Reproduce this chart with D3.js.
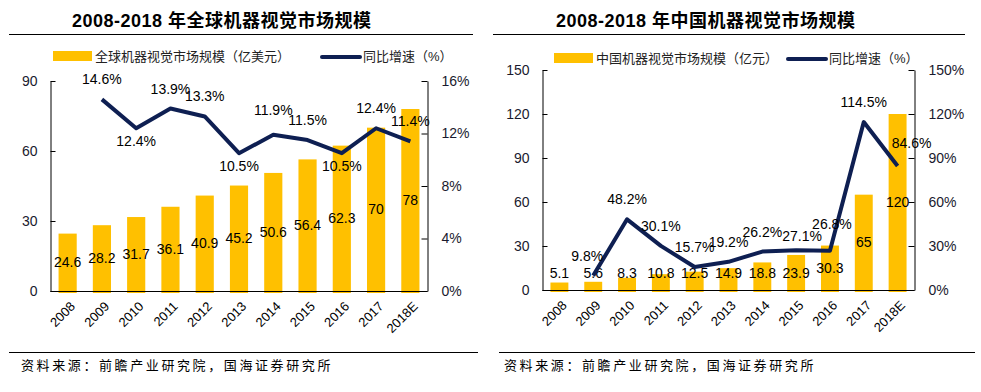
<!DOCTYPE html>
<html><head><meta charset="utf-8">
<script src="https://cdn.jsdelivr.net/npm/d3@7/dist/d3.min.js"></script>
<style>
html,body{margin:0;padding:0;background:#fff;}
svg{display:block;font-family:"Liberation Sans",Arial,"Noto Sans CJK SC",sans-serif;}
</style></head>
<body>
<svg id="c" width="981" height="392"></svg>
<script>
const years = ["2008","2009","2010","2011","2012","2013","2014","2015","2016","2017","2018E"];
const globalMarket = [24.6, 28.2, 31.7, 36.1, 40.9, 45.2, 50.6, 56.4, 62.3, 70, 78];
const globalGrowth = [null, 14.6, 12.4, 13.9, 13.3, 10.5, 11.9, 11.5, 10.5, 12.4, 11.4];
const chinaMarket = [5.1, 5.6, 8.3, 10.8, 12.5, 14.9, 18.8, 23.9, 30.3, 65, 120];
const chinaGrowth = [null, 9.8, 48.2, 30.1, 15.7, 19.2, 26.2, 27.1, 26.8, 114.5, 84.6];
const globalTicks = [0, 30, 60, 90];
const globalPctTicks = [0, 4, 8, 12, 16];
const chinaTicks = [0, 30, 60, 90, 120, 150];
const chinaPctTicks = [0, 30, 60, 90, 120, 150];
const titles = ["2008-2018 年全球机器视觉市场规模", "2008-2018 年中国机器视觉市场规模"];
const barLegend = ["全球机器视觉市场规模（亿美元）", "中国机器视觉市场规模（亿元）"];
const lineLegend = "同比增速（%）";
const sourceText = "资料来源：前瞻产业研究院，国海证券研究所";

const BAR = "#FFC000", LINE = "#0E1F52";
const svg = d3.select("#c");

function drawChart(o) {
  const g = svg.append("g");
  // title
  g.append("text").attr("x", o.titleX).attr("y", 27).attr("font-size", 18).attr("font-weight", "bold")
    .attr("letter-spacing", 0.5).attr("fill", "#000").text(o.title);
  g.append("line").attr("x1", o.topLine[0]).attr("x2", o.topLine[1]).attr("y1", 34.5).attr("y2", 34.5)
    .attr("stroke", "#000").attr("stroke-width", 1);
  g.append("line").attr("x1", o.botLine[0]).attr("x2", o.botLine[1]).attr("y1", 352.5).attr("y2", 352.5)
    .attr("stroke", "#000").attr("stroke-width", 1);
  g.append("text").attr("x", o.srcX).attr("y", 370).attr("font-size", 13).attr("letter-spacing", 2.6)
    .attr("fill", "#000").text(sourceText);
  // legend
  g.append("rect").attr("x", o.leg[0]).attr("y", o.legY - 5).attr("width", 39).attr("height", 10).attr("fill", BAR);
  g.append("text").attr("x", o.leg[0] + 42).attr("y", o.legY + 4.5).attr("font-size", 13).attr("fill", "#222").text(o.barLegend);
  g.append("line").attr("x1", o.leg[1]).attr("x2", o.leg[1] + 38).attr("y1", o.legY + 1).attr("y2", o.legY + 1)
    .attr("stroke", LINE).attr("stroke-width", 4).attr("stroke-linecap", "round");
  g.append("text").attr("x", o.leg[1] + 41).attr("y", o.legY + 4.5).attr("font-size", 13).attr("fill", "#222").text(lineLegend);

  const x = d3.scaleBand().domain(years).range([o.left, o.right]).paddingInner(0.47).paddingOuter(0.235);
  const y = d3.scaleLinear().domain(o.yDomain).range([o.bottom, o.top]);
  const y2 = d3.scaleLinear().domain(o.y2Domain).range([o.bottom, o.top]);
  const cx = d => x(d) + x.bandwidth() / 2;

  // bars
  g.append("g").selectAll("rect").data(years).join("rect")
    .attr("x", d => x(d)).attr("width", x.bandwidth())
    .attr("y", (d, i) => y(o.bars[i])).attr("height", (d, i) => y(0) - y(o.bars[i]) + 2)
    .attr("fill", BAR);

  // axes
  const ax = g.append("g").attr("transform", `translate(${o.left},0)`)
    .call(d3.axisLeft(y).tickValues(o.ticks).tickSize(-5).tickPadding(13).tickSizeOuter(0));
  const ax2 = g.append("g").attr("transform", `translate(${o.right},0)`)
    .call(d3.axisRight(y2).tickValues(o.ticks2).tickSize(-6).tickPadding(14).tickSizeOuter(0).tickFormat(d => d + "%"));
  const axb = g.append("g").attr("transform", `translate(0,${o.bottom})`)
    .call(d3.axisBottom(x).tickSize(0).tickSizeOuter(0));
  axb.select(".domain").attr("d", `M${o.left},0.5H${o.right}`);
  [ax, ax2, axb].forEach(a => {
    a.selectAll("text").attr("font-size", 14).attr("fill", "#1a1a2e").attr("font-family", "Liberation Sans, Arial, sans-serif");
    a.select(".domain").attr("stroke", "#000");
    a.selectAll(".tick line").attr("stroke", "#000");
  });
  axb.selectAll("text").attr("font-size", 13).attr("fill", "#000").attr("text-anchor", "end")
    .attr("dy", "0.35em").attr("y", 0)
    .attr("transform", d => `translate(5,13) rotate(-45)`);

  // bar labels
  g.append("g").selectAll("text").data(years).join("text")
    .attr("x", d => cx(d))
    .attr("y", (d, i) => Math.min((y(o.bars[i]) + y(0)) / 2, y(0) - 17))
    .attr("dy", "0.36em").attr("text-anchor", "middle").attr("font-size", 14).attr("fill", "#000")
    .text((d, i) => String(o.bars[i]));

  // line
  const pts = years.map((d, i) => ({ d, i, v: o.line[i] })).filter(p => p.v != null);
  g.append("path").datum(pts)
    .attr("d", d3.line().x(p => cx(p.d)).y(p => y2(p.v)))
    .attr("fill", "none").attr("stroke", LINE).attr("stroke-width", 4).attr("stroke-linejoin", "round");

  // line labels
  g.append("g").selectAll("text").data(pts).join("text")
    .attr("x", p => cx(p.d) + (o.nudge[p.i] ? o.nudge[p.i][0] : 0))
    .attr("y", p => {
      const prev = o.line[p.i - 1], next = o.line[p.i + 1];
      const below = o.belowMin && prev != null && next != null && p.v < prev && p.v < next;
      return y2(p.v) + (below ? 13 : -20) + (o.nudge[p.i] ? o.nudge[p.i][1] : 0);
    })
    .attr("dy", "0.36em").attr("text-anchor", "middle").attr("font-size", 14).attr("fill", "#000")
    .text(p => p.v + "%");
}

drawChart({
  title: titles[0], titleX: 72, topLine: [9, 473], botLine: [9, 478], srcX: 21,
  leg: [53, 322], legY: 56, barLegend: barLegend[0],
  left: 50.5, right: 427.5, top: 81, bottom: 291,
  yDomain: [0, 90], y2Domain: [0, 16], ticks: globalTicks, ticks2: globalPctTicks,
  bars: globalMarket, line: globalGrowth, belowMin: true, nudge: { 6: [0, -5] }
});
drawChart({
  title: titles[1], titleX: 556, topLine: [493, 965], botLine: [499, 975], srcX: 504,
  leg: [554, 788], legY: 58, barLegend: barLegend[1],
  left: 542.5, right: 914.5, top: 70, bottom: 290,
  yDomain: [0, 150], y2Domain: [0, 150], ticks: chinaTicks, ticks2: chinaPctTicks,
  bars: chinaMarket, line: chinaGrowth, belowMin: false,
  nudge: { 1: [-6, 0], 7: [6, 6], 8: [2, -7], 10: [14, -3] }
});
</script>
</body></html>
